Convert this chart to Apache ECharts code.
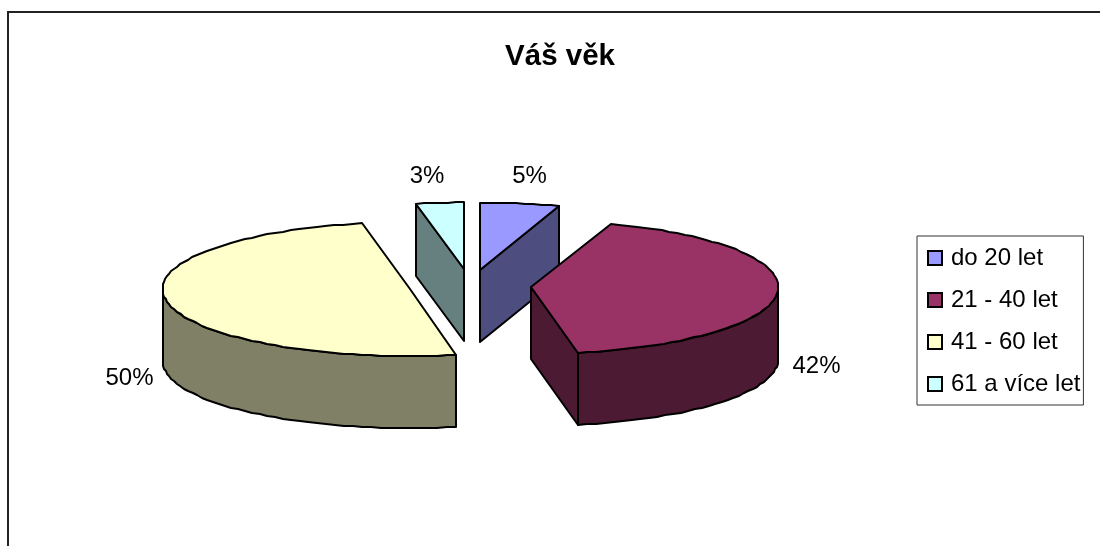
<!DOCTYPE html>
<html>
<head>
<meta charset="utf-8">
<style>html,body{margin:0;padding:0;background:#fff}#c{width:1100px;height:546px}</style>
<script src="https://cdn.jsdelivr.net/npm/echarts@6/dist/echarts.min.js"></script>
</head>
<body>
<div id="c"></div>
<script>
const titleText = 'Váš věk';
const categories = ['do 20 let', '21 - 40 let', '41 - 60 let', '61 a více let'];
const values = [5.2, 41.8, 49.9, 3.1];
const topColors = ['#9999FF', '#993366', '#FFFFCC', '#CCFFFF'];
const sideColors = ['#4D4D80', '#4D1A33', '#808066', '#668080'];
const labelOffsets = [[9.5, -27], [38.5, 74], [-37.5, 76.5], [-13, -27]];

const cx = 470, cy = 286, rx = 247, ry = 67, depth = 72, explode = 61.5;
const rad = d => d * Math.PI / 180;
const total = values.reduce((a, b) => a + b, 0);
const starts = [];
values.reduce((acc, v, i) => { starts[i] = acc / total * 360; return acc + v; }, 0);

function pt(c, a, dy) {
  return [Math.round(c[0] + rx * Math.sin(rad(a))), Math.round(c[1] - ry * Math.cos(rad(a)) + (dy || 0))];
}
function arc(c, a0, a1, dy) {
  const n = Math.max(1, Math.ceil((a1 - a0) / 2.2)), out = [];
  for (let i = 0; i <= n; i++) out.push(pt(c, a0 + (a1 - a0) * i / n, dy));
  return out;
}
function poly(points, fill) {
  return { type: 'polygon', shape: { points: points }, silent: true,
    style: { fill: fill, stroke: '#000', lineWidth: 2, lineJoin: 'round' } };
}

function makeRender(i) {
  return function (params, api) {
    const v = api.value(0);
    const a0 = starts[i], a1 = a0 + v / total * 360, mid = (a0 + a1) / 2;
    const c = [cx + explode * Math.sin(rad(mid)), cy - explode * ry / rx * Math.cos(rad(mid))];
    const apex = [Math.round(c[0]), Math.round(c[1])];
    const apexB = [apex[0], apex[1] + depth];
    const side = sideColors[i], children = [];
    // radial cut faces that turn towards the viewer
    if (Math.cos(rad(a0 - 90)) < -1e-6) {
      const p = pt(c, a0), q = pt(c, a0, depth);
      children.push(poly([apex, p, q, apexB], side));
    }
    if (Math.cos(rad(a1 + 90)) < -1e-6) {
      const p = pt(c, a1), q = pt(c, a1, depth);
      children.push(poly([apex, p, q, apexB], side));
    }
    // outer wall, front half only
    const w0 = Math.max(a0, 90), w1 = Math.min(a1, 270);
    if (w1 > w0) {
      children.push(poly(arc(c, w0, w1).concat(arc(c, w0, w1, depth).reverse()), side));
    }
    // top face
    children.push(poly([apex].concat(arc(c, a0, a1)), topColors[i]));
    // percentage label
    const rim = pt(c, mid);
    children.push({
      type: 'text', silent: true,
      style: {
        x: rim[0] + labelOffsets[i][0], y: rim[1] + labelOffsets[i][1],
        text: Math.round(v / total * 100) + '%',
        fill: '#000', font: '24px "Liberation Sans", Arial, sans-serif',
        align: 'center', verticalAlign: 'middle'
      }
    });
    return { type: 'group', children: children };
  };
}

const chart = echarts.init(document.getElementById('c'), null, { renderer: 'canvas' });
chart.setOption({
  animation: false,
  backgroundColor: '#fff',
  title: {
    text: titleText, left: 555, top: 37, textAlign: 'center',
    textStyle: { fontFamily: '"Liberation Sans", Arial, sans-serif', fontSize: 29.5, fontWeight: 'bold', color: '#000' }
  },
  legend: {
    orient: 'vertical', left: 917, top: 236,
    data: categories,
    icon: 'rect', itemWidth: 14, itemHeight: 14, itemGap: 18,
    padding: [10, 3, 9, 10],
    borderColor: '#333', borderWidth: 1,
    selectedMode: false,
    itemStyle: { borderColor: '#000', borderWidth: 2 },
    textStyle: { fontFamily: '"Liberation Sans", Arial, sans-serif', fontSize: 24, lineHeight: 24, color: '#000', padding: [0, 0, 0, 4] }
  },
  graphic: [{
    type: 'polyline', silent: true,
    shape: { points: [[8, 546], [8, 12], [1100, 12]] },
    style: { fill: null, stroke: '#222', lineWidth: 2 }
  }],
  series: categories.map((name, i) => ({
    type: 'custom',
    name: name,
    coordinateSystem: 'none',
    z: Math.cos(rad(starts[i] + values[i] / total * 180)) < 0 ? 3 : 2,
    itemStyle: { color: topColors[i] },
    data: [[values[i]]],
    renderItem: makeRender(i)
  }))
});
</script>
</body>
</html>
